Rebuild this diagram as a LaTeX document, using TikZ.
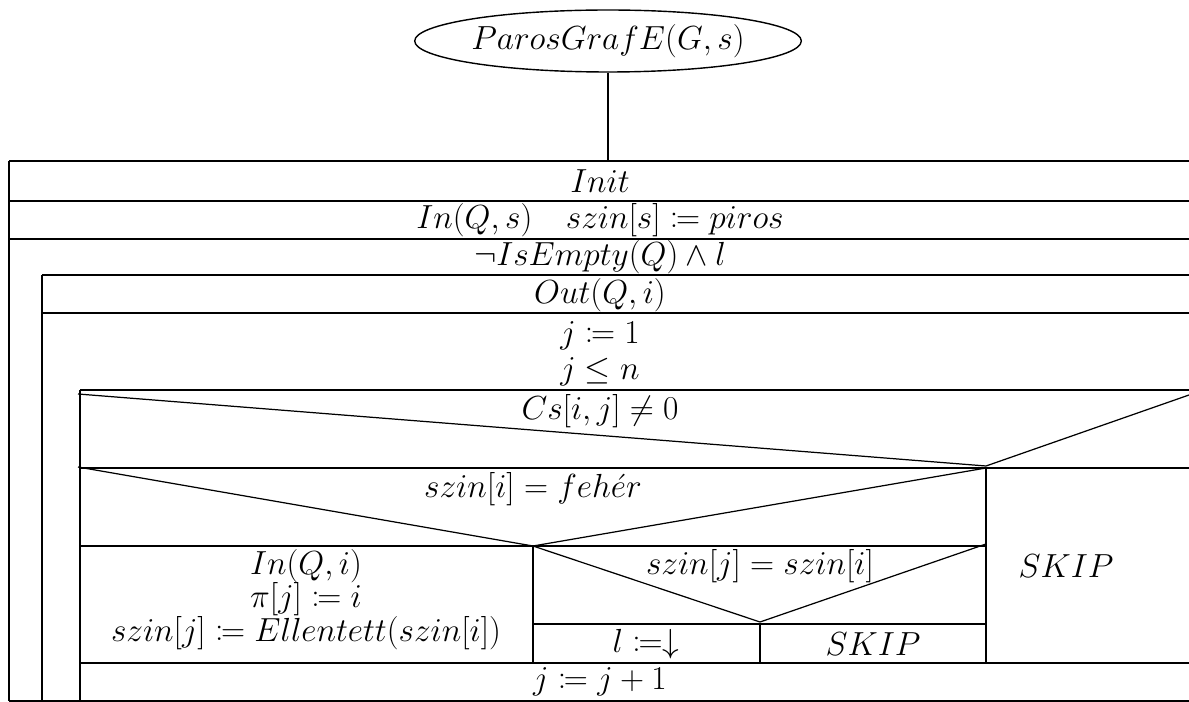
\RequirePackage{fix-cm}
\documentclass[tikz,border=0pt]{standalone}
\usepackage{mathtools}
\usetikzlibrary{shapes.geometric}
\begin{document}
\begin{tikzpicture}[x=0.02cm,y=-0.02cm,
  box/.style={line width=1.1pt},
  diag/.style={line width=0.7pt},
  lbl/.style={inner sep=0pt, font=\fontsize{19}{22}\selectfont}]
\useasboundingbox (0,0) rectangle (1189,702);
\clip (0,0) rectangle (1189,702);
% start ellipse
\node[draw, ellipse, line width=0.8pt, minimum width=6.12cm, minimum height=1.24cm, inner sep=0pt, lbl] (start) at (608,41) {$ParosGrafE(G,s)$};
\coordinate (top) at (608,161);
\draw[box] (start) -- (top);
% horizontal lines
\draw[box] (9,161) -- (1189,161);
\draw[box] (9,201) -- (1189,201);
\draw[box] (9,239) -- (1189,239);
\draw[box] (42,275) -- (1189,275);
\draw[box] (42,313) -- (1189,313);
\draw[box] (80,390) -- (1189,390);
\draw[box] (80,468) -- (1189,468);
\draw[box] (80,546) -- (986,546);
\draw[box] (533,624) -- (986,624);
\draw[box] (80,663) -- (1189,663);
\draw[box] (9,701) -- (1189,701);
% verticals
\draw[box] (9,161) -- (9,701);
\draw[box] (42,275) -- (42,701);
\draw[box] (80,390) -- (80,701);
\draw[box] (986,468) -- (986,663);
\draw[box] (533,546) -- (533,663);
\draw[box] (760,624) -- (760,663);
% diagonals
\draw[diag] (78,394) -- (986,466) -- (1189,395);
\draw[diag] (78,467) -- (533,546) -- (986,468);
\draw[diag] (533,546) -- (760,622) -- (986,544);
% texts
\node[lbl] (init) at (600,181) {$Init$};
\node[lbl] (ins) at (600,220) {$In(Q,s)\quad szin[s]\coloneqq piros$};
\node[lbl] (while1) at (600,257) {$\neg IsEmpty(Q)\land l$};
\node[lbl] (out) at (600,295) {$Out(Q,i)$};
\node[lbl] (j1) at (600,336) {$j\coloneqq 1$};
\node[lbl] (while2) at (600,372) {$j\le n$};
\node[lbl] (cond1) at (600,411) {$Cs[i,j]\neq 0$};
\node[lbl] (cond2) at (533,489) {$szin[i]=feh\acute{e}r$};
\node[lbl] (inqi) at (306,566) {$In(Q,i)$};
\node[lbl] (pij) at (306,599) {$\pi[j]\coloneqq i$};
\node[lbl] (szinj) at (306,633) {$szin[j]\coloneqq Ellentett(szin[i])$};
\node[lbl] (cond3) at (760,566) {$szin[j]=szin[i]$};
\node[lbl] (lset) at (646,644) {$l\coloneqq\downarrow$};
\node[lbl] (skip2) at (873,644) {$SKIP$};
\node[lbl] (skip1) at (1066,566) {$SKIP$};
\node[lbl] (jinc) at (600,682) {$j\coloneqq j+1$};
\end{tikzpicture}
\end{document}
